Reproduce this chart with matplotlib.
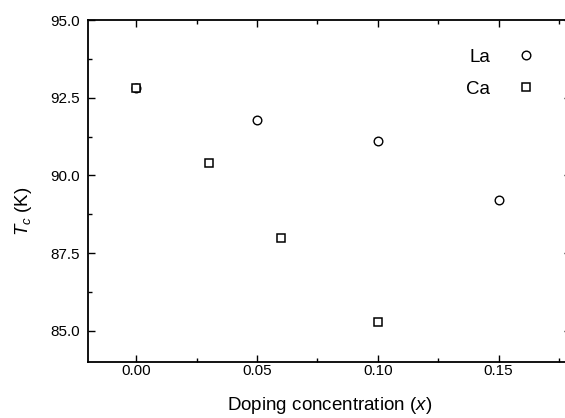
import numpy as np
from matplotlib import pyplot as plt
from matplotlib.ticker import MultipleLocator, FormatStrFormatter

plt.rcParams['font.family'] = ['Liberation Sans', 'DejaVu Sans']
plt.rcParams['mathtext.fontset'] = 'custom'
plt.rcParams['mathtext.rm'] = 'Liberation Sans'
plt.rcParams['mathtext.it'] = 'Liberation Sans:italic'

# La-doped samples
x_la = [0.00, 0.05, 0.10, 0.15]
tc_la = [92.8, 91.8, 91.1, 89.2]
# Ca-doped samples
x_ca = [0.00, 0.03, 0.06, 0.10]
tc_ca = [92.8, 90.4, 88.0, 85.3]

fig = plt.figure(figsize=(5.65, 4.18), dpi=100)
ax = fig.add_axes([0.1558, 0.134, 0.855, 0.818])

ax.plot(x_la, tc_la, 'o', ms=6.2, mfc='white', mec='black', mew=1.0, ls='none', label='La')
ax.plot(x_ca, tc_ca, 's', ms=5.6, mfc='white', mec='black', mew=1.1, ls='none', label='Ca')

ax.set_xlim(-0.02, 0.18)
ax.set_ylim(84.0, 95.0)
ax.xaxis.set_major_locator(MultipleLocator(0.05))
ax.xaxis.set_minor_locator(MultipleLocator(0.025))
ax.yaxis.set_major_locator(MultipleLocator(2.5))
ax.yaxis.set_minor_locator(MultipleLocator(1.25))
ax.xaxis.set_major_formatter(FormatStrFormatter('%.2f'))
ax.yaxis.set_major_formatter(FormatStrFormatter('%.1f'))

ax.tick_params(which='both', direction='in', top=True, right=True, labelsize=11, width=1.0)
ax.tick_params(which='major', length=5)
ax.tick_params(which='minor', length=3)
ax.tick_params(axis='x', pad=1.5)
ax.tick_params(axis='y', pad=6)
for s in ax.spines.values():
    s.set_linewidth(1.3)

ax.set_xlabel('Doping concentration ($x$)', fontsize=13.5, labelpad=12)
ax.set_ylabel('$T_c$ (K)', fontsize=13.5)
ax.yaxis.set_label_coords(-0.111, 0.44)

leg = ax.legend(loc='upper right', bbox_to_anchor=(0.962, 0.966), frameon=False,
                fontsize=13.5, markerfirst=False, handlelength=1.0, handletextpad=1.45,
                labelspacing=0.8)

fig.savefig('out.png', dpi=100)
